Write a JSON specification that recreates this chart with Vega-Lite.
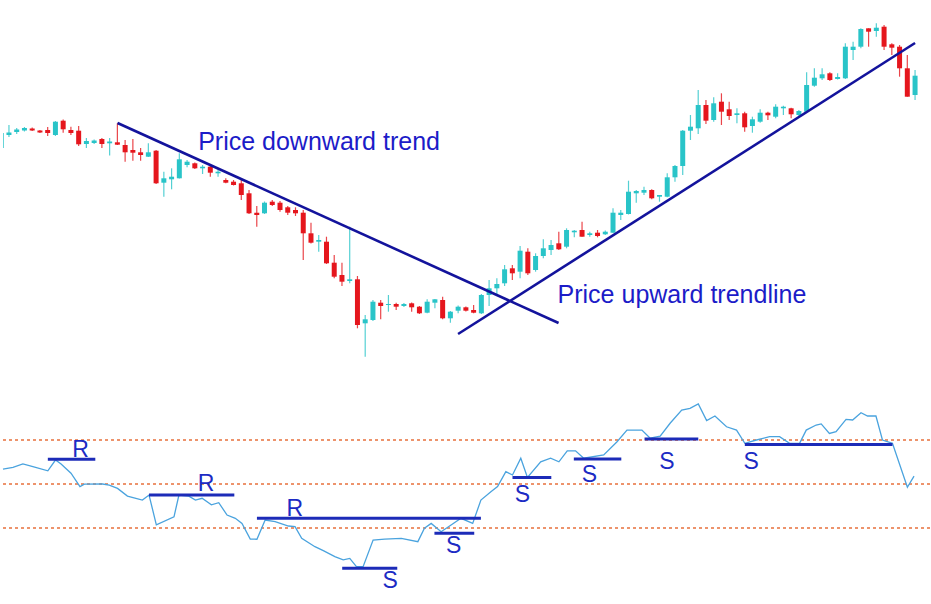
{
  "$schema": "https://vega.github.io/schema/vega-lite/v6.json",
  "width": 931,
  "height": 604,
  "autosize": {"type": "fit", "contains": "padding"},
  "padding": 0,
  "background": "white",
  "config": {"view": {"stroke": null}, "scale": {"continuousPadding": 0}},
  "datasets": {
    "candles": [
      {"i":0,"open":226,"high":244,"low":224,"close":241},
      {"i":1,"open":239,"high":249,"low":237,"close":241.5},
      {"i":2,"open":242,"high":246,"low":240,"close":244.5},
      {"i":3,"open":243.5,"high":247,"low":242.5,"close":246},
      {"i":4,"open":245.5,"high":246.5,"low":243,"close":243.5},
      {"i":5,"open":243.5,"high":244,"low":241,"close":241.5},
      {"i":6,"open":244,"high":247,"low":238,"close":241},
      {"i":7,"open":239,"high":253,"low":238,"close":252.3},
      {"i":8,"open":253.3,"high":254.5,"low":241.3,"close":244.7},
      {"i":9,"open":244,"high":247.3,"low":239,"close":241},
      {"i":10,"open":243.3,"high":248,"low":228,"close":229.7},
      {"i":11,"open":230,"high":236,"low":226,"close":233},
      {"i":12,"open":231,"high":234.5,"low":230,"close":233.5},
      {"i":13,"open":235,"high":236,"low":226,"close":230},
      {"i":14,"open":230.7,"high":236,"low":218.5,"close":232.5},
      {"i":15,"open":231.7,"high":250.7,"low":229,"close":229.3},
      {"i":16,"open":229,"high":234,"low":212.3,"close":221.7},
      {"i":17,"open":224,"high":235,"low":213.3,"close":221.3},
      {"i":18,"open":221.7,"high":226,"low":213.3,"close":219},
      {"i":19,"open":217.3,"high":230.7,"low":217,"close":221.7},
      {"i":20,"open":223.3,"high":224,"low":190,"close":190.7},
      {"i":21,"open":191.3,"high":202.3,"low":177.3,"close":195.7},
      {"i":22,"open":194.7,"high":205.7,"low":184.7,"close":197.3},
      {"i":23,"open":195.7,"high":220.7,"low":195.5,"close":214.7},
      {"i":24,"open":209,"high":214,"low":206.7,"close":212.3},
      {"i":25,"open":210.7,"high":211.5,"low":205,"close":205.7},
      {"i":26,"open":205.7,"high":209,"low":200,"close":207.3},
      {"i":27,"open":207.3,"high":208.5,"low":197.3,"close":201.3},
      {"i":28,"open":200.7,"high":204,"low":197.3,"close":202.3},
      {"i":29,"open":194,"high":195.7,"low":190.7,"close":191.3},
      {"i":30,"open":192.3,"high":194,"low":188.5,"close":189},
      {"i":31,"open":190.7,"high":194,"low":174,"close":179},
      {"i":32,"open":180.7,"high":184,"low":160,"close":160.7},
      {"i":33,"open":161.3,"high":168,"low":147.3,"close":159},
      {"i":34,"open":160.7,"high":172.5,"low":160,"close":171.3},
      {"i":35,"open":172.3,"high":174,"low":168,"close":169},
      {"i":36,"open":171.3,"high":173,"low":162.3,"close":164},
      {"i":37,"open":166.7,"high":168,"low":159,"close":161.3},
      {"i":38,"open":164,"high":166.7,"low":158,"close":160.7},
      {"i":39,"open":161.3,"high":164,"low":114,"close":140.7},
      {"i":40,"open":140.7,"high":151.3,"low":130.5,"close":131.3},
      {"i":41,"open":132.3,"high":139,"low":122.3,"close":134},
      {"i":42,"open":132.3,"high":137.3,"low":110,"close":110.7},
      {"i":43,"open":111.3,"high":119,"low":95.7,"close":97.3},
      {"i":44,"open":99,"high":111.3,"low":88,"close":92.3},
      {"i":45,"open":93,"high":147.3,"low":90.7,"close":94.7},
      {"i":46,"open":94.7,"high":98,"low":45.7,"close":49},
      {"i":47,"open":50.7,"high":59,"low":17.3,"close":54.7},
      {"i":48,"open":54,"high":74,"low":53,"close":72.3},
      {"i":49,"open":71.3,"high":74,"low":54.7,"close":68},
      {"i":50,"open":69,"high":79,"low":62.3,"close":70},
      {"i":51,"open":70,"high":71.3,"low":64,"close":67.3},
      {"i":52,"open":68,"high":71,"low":67,"close":70},
      {"i":53,"open":70.7,"high":71.5,"low":62.3,"close":66.7},
      {"i":54,"open":67.3,"high":68,"low":60,"close":60.7},
      {"i":55,"open":61.3,"high":74.7,"low":60.7,"close":72.3},
      {"i":56,"open":71.3,"high":75,"low":65.7,"close":74.7},
      {"i":57,"open":74,"high":77.3,"low":54.7,"close":55.7},
      {"i":58,"open":55.7,"high":63,"low":51.3,"close":62.3},
      {"i":59,"open":63.3,"high":68.5,"low":60.7,"close":67.3},
      {"i":60,"open":66.7,"high":67.5,"low":62.5,"close":63.3},
      {"i":61,"open":64,"high":69,"low":60.7,"close":61.3},
      {"i":62,"open":60.7,"high":80,"low":60,"close":79},
      {"i":63,"open":79,"high":94,"low":68,"close":85.7},
      {"i":64,"open":85.7,"high":95.7,"low":79,"close":90},
      {"i":65,"open":90.7,"high":109,"low":88,"close":104.7},
      {"i":66,"open":105.7,"high":109,"low":94,"close":100.7},
      {"i":67,"open":102.3,"high":128,"low":95.7,"close":123.3},
      {"i":68,"open":122.3,"high":125.7,"low":99,"close":100.7},
      {"i":69,"open":104,"high":120.7,"low":102.3,"close":118},
      {"i":70,"open":118,"high":134.7,"low":115.7,"close":125.7},
      {"i":71,"open":124,"high":134,"low":119,"close":129},
      {"i":72,"open":130.7,"high":142.3,"low":124,"close":124.7},
      {"i":73,"open":127.3,"high":145.7,"low":125.7,"close":144},
      {"i":74,"open":141.7,"high":144,"low":136.7,"close":143.3},
      {"i":75,"open":144,"high":152.3,"low":137.3,"close":137.3},
      {"i":76,"open":139,"high":142.3,"low":137.3,"close":140.7},
      {"i":77,"open":141.3,"high":144,"low":136.7,"close":138},
      {"i":78,"open":139.7,"high":143.5,"low":139,"close":142.3},
      {"i":79,"open":141.3,"high":165.7,"low":141,"close":161.3},
      {"i":80,"open":159,"high":164,"low":154,"close":161.3},
      {"i":81,"open":160,"high":193.3,"low":159.5,"close":182.3},
      {"i":82,"open":180.7,"high":184,"low":171.3,"close":183},
      {"i":83,"open":181.3,"high":187.3,"low":179,"close":184},
      {"i":84,"open":184,"high":184.7,"low":174.7,"close":175.7},
      {"i":85,"open":177.3,"high":179,"low":172.3,"close":179},
      {"i":86,"open":177.3,"high":200.7,"low":176.7,"close":196.7},
      {"i":87,"open":196.7,"high":209,"low":192.3,"close":208},
      {"i":88,"open":208,"high":244,"low":199,"close":243.3},
      {"i":89,"open":243.3,"high":259,"low":234,"close":247.3},
      {"i":90,"open":245.7,"high":284,"low":240,"close":269},
      {"i":91,"open":269,"high":274,"low":250,"close":253.3},
      {"i":92,"open":254,"high":276.7,"low":252.3,"close":270.7},
      {"i":93,"open":272.3,"high":280.7,"low":249,"close":262.3},
      {"i":94,"open":264.7,"high":272.3,"low":254,"close":258},
      {"i":95,"open":259,"high":265.7,"low":250.7,"close":260.7},
      {"i":96,"open":260.7,"high":262.3,"low":242.3,"close":246.7},
      {"i":97,"open":248,"high":257.3,"low":241.3,"close":254.7},
      {"i":98,"open":252.3,"high":264.7,"low":251.3,"close":261.3},
      {"i":99,"open":261.3,"high":262.3,"low":254,"close":258.7},
      {"i":100,"open":257.3,"high":269.7,"low":255.7,"close":267.3},
      {"i":101,"open":265.7,"high":268.3,"low":259,"close":267.3},
      {"i":102,"open":265.7,"high":266.3,"low":255.7,"close":259.7},
      {"i":103,"open":259,"high":264,"low":258,"close":263},
      {"i":104,"open":262.3,"high":301.7,"low":262,"close":289},
      {"i":105,"open":288.3,"high":305.7,"low":287.3,"close":296.3},
      {"i":106,"open":295.7,"high":305.7,"low":294,"close":299.7},
      {"i":107,"open":300.7,"high":301.7,"low":293,"close":294},
      {"i":108,"open":295,"high":300.7,"low":294.5,"close":297},
      {"i":109,"open":295.7,"high":330.7,"low":295,"close":327.3},
      {"i":110,"open":324,"high":332.3,"low":314,"close":327.3},
      {"i":111,"open":327.3,"high":345.7,"low":325.7,"close":345},
      {"i":112,"open":345.7,"high":345.7,"low":327.3,"close":342.3},
      {"i":113,"open":343,"high":350.7,"low":337.3,"close":346.3},
      {"i":114,"open":347.3,"high":349,"low":324,"close":327.3},
      {"i":115,"open":329.7,"high":330.7,"low":319,"close":326.3},
      {"i":116,"open":327.3,"high":329,"low":297.3,"close":305.7},
      {"i":117,"open":305.7,"high":319,"low":277.3,"close":277.3},
      {"i":118,"open":279,"high":304,"low":274,"close":298.3}
    ],
    "rsi": [
      {"i":0.23,"rsi":56.8},{"i":1.52,"rsi":57.6},{"i":2.8,"rsi":59.1},{"i":4.09,"rsi":57.9},
      {"i":6.02,"rsi":56.0},{"i":7.01,"rsi":60.9},{"i":7.73,"rsi":59.1},{"i":9.01,"rsi":54.9},
      {"i":10.17,"rsi":48.8},{"i":10.74,"rsi":49.9},{"i":13.09,"rsi":50.0},{"i":13.95,"rsi":49.5},
      {"i":15.02,"rsi":48.0},{"i":16.3,"rsi":44.5},{"i":18.23,"rsi":42.7},{"i":19.09,"rsi":45.0},
      {"i":20.03,"rsi":31.4},{"i":22.31,"rsi":35.1},{"i":22.95,"rsi":45.0},{"i":24.23,"rsi":44.5},
      {"i":25.08,"rsi":42.7},{"i":25.94,"rsi":43.5},{"i":27.14,"rsi":40.5},{"i":28.09,"rsi":41.5},
      {"i":29.16,"rsi":35.9},{"i":30.23,"rsi":34.4},{"i":31.09,"rsi":32.1},{"i":32.16,"rsi":25.0},
      {"i":33.02,"rsi":24.9},{"i":34.08,"rsi":33.6},{"i":35.37,"rsi":32.9},{"i":37.09,"rsi":30.9},
      {"i":37.94,"rsi":30.6},{"i":38.8,"rsi":25.3},{"i":40.51,"rsi":21.5},{"i":41.59,"rsi":19.7},
      {"i":43.08,"rsi":17.0},{"i":44.16,"rsi":15.5},{"i":45.01,"rsi":16.2},{"i":45.87,"rsi":12.4},
      {"i":46.73,"rsi":12.4},{"i":48.02,"rsi":24.5},{"i":49.51,"rsi":24.9},{"i":51.66,"rsi":25.3},
      {"i":53.8,"rsi":23.8},{"i":54.65,"rsi":29.9},{"i":55.52,"rsi":32.1},{"i":56.8,"rsi":28.3},
      {"i":58.09,"rsi":31.4},{"i":59.37,"rsi":34.4},{"i":60.88,"rsi":32.1},{"i":61.94,"rsi":42.7},
      {"i":63.23,"rsi":46.5},{"i":64.09,"rsi":48.8},{"i":65.16,"rsi":55.6},{"i":66.02,"rsi":54.1},
      {"i":67.09,"rsi":61.7},{"i":67.95,"rsi":53.0},{"i":69.66,"rsi":60.1},{"i":70.94,"rsi":61.7},
      {"i":72.01,"rsi":60.1},{"i":73.09,"rsi":65.1},{"i":74.16,"rsi":65.1},{"i":75.22,"rsi":61.7},
      {"i":77.8,"rsi":63.2},{"i":79.52,"rsi":69.2},{"i":80.8,"rsi":74.5},{"i":82.73,"rsi":74.5},
      {"i":83.8,"rsi":70.8},{"i":85.09,"rsi":71.8},{"i":86.37,"rsi":77.6},{"i":87.87,"rsi":83.6},
      {"i":88.94,"rsi":84.4},{"i":90.01,"rsi":86.4},{"i":91.09,"rsi":78.8},{"i":92.16,"rsi":80.9},
      {"i":93.66,"rsi":76.0},{"i":94.95,"rsi":74.5},{"i":96.02,"rsi":68.5},{"i":97.52,"rsi":70.0},
      {"i":99.23,"rsi":71.5},{"i":100.51,"rsi":71.5},{"i":101.8,"rsi":68.5},{"i":103.09,"rsi":68.5},
      {"i":103.95,"rsi":74.5},{"i":105.23,"rsi":76.8},{"i":105.88,"rsi":77.3},{"i":106.94,"rsi":73.0},
      {"i":107.8,"rsi":73.8},{"i":109.09,"rsi":79.4},{"i":109.94,"rsi":79.1},{"i":111.02,"rsi":82.4},
      {"i":111.87,"rsi":80.9},{"i":112.95,"rsi":80.9},{"i":113.79,"rsi":70.0},{"i":115.08,"rsi":68.5},
      {"i":117.01,"rsi":48.5},{"i":117.87,"rsi":53.6}
    ],
    "levels": [{"level":70},{"level":50},{"level":30}],
    "zones": [
      {"kind":"R","from":6.02,"to":12.15,"rsi":61.2,"li":10.26,"lr":65.5},
      {"kind":"R","from":19.09,"to":30.1,"rsi":45.0,"li":26.46,"lr":50.0},
      {"kind":"R","from":33.02,"to":61.94,"rsi":34.4,"li":37.9,"lr":38.8},
      {"kind":"S","from":44.03,"to":51.14,"rsi":11.7,"li":50.24,"lr":6.1},
      {"kind":"S","from":55.94,"to":61.08,"rsi":27.6,"li":58.41,"lr":21.8},
      {"kind":"S","from":66.02,"to":71.03,"rsi":53.0,"li":67.3,"lr":45.0},
      {"kind":"S","from":73.94,"to":80.07,"rsi":61.4,"li":75.96,"lr":54.1},
      {"kind":"S","from":83.07,"to":90.01,"rsi":70.5,"li":85.95,"lr":60.2},
      {"kind":"S","from":96.02,"to":115.08,"rsi":68.0,"li":96.85,"lr":60.0}
    ],
    "trends": [
      {"name":"Price downward trend","i1":15.02,"p1":251,"i2":71.97,"p2":51,"ti":25.43,"tp":224},
      {"name":"Price upward trendline","i1":58.99,"p1":40,"i2":118.0,"p2":331,"ti":71.84,"tp":71}
    ]
  },
  "resolve": {"scale": {"y": "independent"}},
  "layer": [
    {
      "data": {"name": "levels"},
      "mark": {"type": "rule", "color": "#e8703c", "strokeWidth": 1.5, "strokeDash": [3, 3]},
      "encoding": {
        "y": {"field": "level", "type": "quantitative", "scale": {"domain": [-4.545, 270], "nice": false, "zero": false, "padding": 0}, "axis": null}
      }
    },
    {
      "data": {"name": "rsi"},
      "mark": {"type": "line", "color": "#4aa3de", "strokeWidth": 1.3},
      "encoding": {
        "x": {"field": "i", "type": "quantitative", "scale": {"domain": [0.231, 119.93], "nice": false, "zero": false, "padding": 0}, "axis": null},
        "y": {"field": "rsi", "type": "quantitative", "scale": {"domain": [-4.545, 270], "nice": false, "zero": false, "padding": 0}, "axis": null}
      }
    },
    {
      "data": {"name": "zones"},
      "mark": {"type": "rule", "color": "#1c2bb8", "strokeWidth": 3},
      "encoding": {
        "x": {"field": "from", "type": "quantitative", "scale": {"domain": [0.231, 119.93], "nice": false, "zero": false, "padding": 0}, "axis": null},
        "x2": {"field": "to"},
        "y": {"field": "rsi", "type": "quantitative", "scale": {"domain": [-4.545, 270], "nice": false, "zero": false, "padding": 0}, "axis": null}
      }
    },
    {
      "data": {"name": "zones"},
      "mark": {"type": "text", "color": "#1c2bc4", "fontSize": 23, "font": "Liberation Sans", "align": "center", "baseline": "middle"},
      "encoding": {
        "x": {"field": "li", "type": "quantitative", "scale": {"domain": [0.231, 119.93], "nice": false, "zero": false, "padding": 0}, "axis": null},
        "y": {"field": "lr", "type": "quantitative", "scale": {"domain": [-4.545, 270], "nice": false, "zero": false, "padding": 0}, "axis": null},
        "text": {"field": "kind"}
      }
    },
    {
      "data": {"name": "candles"},
      "mark": {"type": "rule", "strokeWidth": 1.2, "opacity": 0.8, "clip": true},
      "encoding": {
        "x": {"field": "i", "type": "quantitative", "scale": {"domain": [0.231, 119.93], "nice": false, "zero": false, "padding": 0}, "axis": null},
        "y": {"field": "low", "type": "quantitative", "scale": {"domain": [-230, 374], "nice": false, "zero": false, "padding": 0}, "axis": null},
        "y2": {"field": "high"},
        "color": {"condition": {"test": "datum.close >= datum.open", "value": "#29c4c8"}, "value": "#e5161d"}
      }
    },
    {
      "data": {"name": "candles"},
      "mark": {"type": "bar", "size": 5, "clip": true},
      "encoding": {
        "x": {"field": "i", "type": "quantitative", "scale": {"domain": [0.231, 119.93], "nice": false, "zero": false, "padding": 0}, "axis": null},
        "y": {"field": "open", "type": "quantitative", "scale": {"domain": [-230, 374], "nice": false, "zero": false, "padding": 0}, "axis": null},
        "y2": {"field": "close"},
        "color": {"condition": {"test": "datum.close >= datum.open", "value": "#29c4c8"}, "value": "#e5161d"}
      }
    },
    {
      "data": {"name": "trends"},
      "mark": {"type": "rule", "color": "#13139c", "strokeWidth": 2.6},
      "encoding": {
        "x": {"field": "i1", "type": "quantitative", "scale": {"domain": [0.231, 119.93], "nice": false, "zero": false, "padding": 0}, "axis": null},
        "x2": {"field": "i2"},
        "y": {"field": "p1", "type": "quantitative", "scale": {"domain": [-230, 374], "nice": false, "zero": false, "padding": 0}, "axis": null},
        "y2": {"field": "p2"}
      }
    },
    {
      "data": {"name": "trends"},
      "mark": {"type": "text", "color": "#1c1cc8", "fontSize": 25, "font": "Liberation Sans", "align": "left", "baseline": "alphabetic"},
      "encoding": {
        "x": {"field": "ti", "type": "quantitative", "scale": {"domain": [0.231, 119.93], "nice": false, "zero": false, "padding": 0}, "axis": null},
        "y": {"field": "tp", "type": "quantitative", "scale": {"domain": [-230, 374], "nice": false, "zero": false, "padding": 0}, "axis": null},
        "text": {"field": "name"}
      }
    }
  ]
}
